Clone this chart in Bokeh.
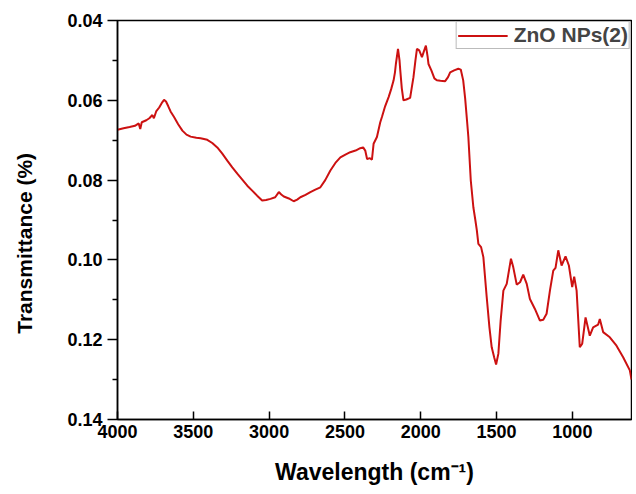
from bokeh.plotting import figure
from bokeh.models import Range1d, FixedTicker, NumeralTickFormatter, Legend, LegendItem
from bokeh.embed import file_html
from bokeh.resources import INLINE

# FTIR spectrum of ZnO NPs(2): wavenumber (cm-1) and transmittance
wavenumber = [
    4000, 3960, 3920, 3885, 3860, 3850, 3840, 3810, 3790, 3770, 3760, 3745, 3725, 3705,
    3693, 3680, 3665, 3650, 3627, 3600, 3572, 3545, 3518, 3480, 3452, 3408, 3375, 3342,
    3310, 3276, 3243, 3210, 3177, 3144, 3110, 3079, 3046, 3020, 2991, 2960, 2936, 2920,
    2903, 2870, 2838, 2815, 2794, 2760, 2728, 2695, 2662, 2630, 2596, 2563, 2530, 2497,
    2465, 2430, 2399, 2380, 2366, 2354, 2335, 2322, 2311, 2289, 2267, 2256, 2235, 2212,
    2195, 2179, 2170, 2164, 2150, 2140, 2135, 2125, 2114, 2095, 2070, 2060, 2048, 2035,
    2025, 2010, 1992, 1980, 1966, 1955, 1949, 1930, 1910, 1894, 1870, 1839, 1820, 1806,
    1780, 1752, 1736, 1720, 1707, 1695, 1686, 1670, 1653, 1640, 1630, 1620, 1602, 1587,
    1565, 1547, 1532, 1515, 1503, 1488, 1473, 1455, 1433, 1405, 1390, 1367, 1345, 1324,
    1301, 1280, 1247, 1214, 1192, 1170, 1148, 1126, 1111, 1093, 1071, 1045, 1023, 1001,
    988, 972, 951, 935, 913, 885, 863, 830, 819, 797, 753, 709, 665, 621, 610,
]
transmittance = [
    0.0674, 0.0670, 0.0667, 0.0664, 0.0658, 0.0672, 0.0655, 0.0650, 0.0645, 0.0637, 0.0645, 0.0628, 0.0618, 0.0605,
    0.0599, 0.0603, 0.0615, 0.0628, 0.0642, 0.0660, 0.0676, 0.0686, 0.0691, 0.0694, 0.0695, 0.0699, 0.0707, 0.0718,
    0.0733, 0.0751, 0.0768, 0.0784, 0.0799, 0.0814, 0.0827, 0.0839, 0.0851, 0.0850, 0.0847, 0.0843, 0.0830, 0.0836,
    0.0841, 0.0846, 0.0853, 0.0849, 0.0843, 0.0837, 0.0830, 0.0824, 0.0818, 0.0800, 0.0776, 0.0757, 0.0743, 0.0736,
    0.0730, 0.0726, 0.0720, 0.0718, 0.0726, 0.0747, 0.0745, 0.0749, 0.0709, 0.0692, 0.0655, 0.0642, 0.0615, 0.0592,
    0.0572, 0.0550, 0.0530, 0.0509, 0.0471, 0.0500, 0.0525, 0.0570, 0.0600, 0.0598, 0.0594, 0.0570, 0.0542, 0.0500,
    0.0471, 0.0475, 0.0492, 0.0478, 0.0463, 0.0490, 0.0509, 0.0525, 0.0545, 0.0550, 0.0551, 0.0552, 0.0542, 0.0530,
    0.0525, 0.0521, 0.0523, 0.0550, 0.0596, 0.0650, 0.0692, 0.0801, 0.0868, 0.0900, 0.0926, 0.0960, 0.0968, 0.0993,
    0.1093, 0.1169, 0.1219, 0.1245, 0.1262, 0.1235, 0.1152, 0.1077, 0.1060, 0.0997, 0.1018, 0.1062, 0.1056, 0.1037,
    0.1060, 0.1098, 0.1123, 0.1152, 0.1150, 0.1135, 0.1077, 0.1027, 0.1020, 0.0976, 0.1014, 0.0991, 0.1014, 0.1068,
    0.1042, 0.1077, 0.1219, 0.1210, 0.1144, 0.1190, 0.1169, 0.1162, 0.1148, 0.1181, 0.1194, 0.1215, 0.1244, 0.1277, 0.1300,
]
x_ticks = [4000, 3500, 3000, 2500, 2000, 1500, 1000]
y_ticks = [0.04, 0.06, 0.08, 0.10, 0.12, 0.14]
y_minor = [0.05, 0.07, 0.09, 0.11, 0.13]
series_name = "ZnO NPs(2)"
x_title = "Wavelength (cm⁻¹)"
y_title = "Transmittance (%)"

FONT = "Liberation Sans"

p = figure(
    width=632, height=490,
    x_range=Range1d(4000, 610), y_range=Range1d(0.14, 0.04),
    output_backend="svg", toolbar_location=None,
    min_border_left=117, min_border_right=1, min_border_top=20, min_border_bottom=71,
)
p.background_fill_color = "white"
p.border_fill_color = "white"
p.outline_line_color = "black"
p.outline_line_width = 1.5
p.xgrid.visible = False
p.ygrid.visible = False

line = p.line(wavenumber, transmittance, line_color="#cc1111", line_width=2)

# x axis
xa = p.xaxis[0]
xa.ticker = FixedTicker(ticks=x_ticks)
xa.axis_label = x_title
xa.major_tick_in = 8
xa.major_tick_out = 0
xa.minor_tick_in = 0
xa.minor_tick_out = 0
xa.major_label_standoff = 5
xa.axis_label_standoff = 18
xa.axis_label_text_font_size = "23px"

# y axis (title sits a little below the frame centre in the original;
# trailing no-break spaces shift the visible text down)
ya = p.yaxis[0]
ya.ticker = FixedTicker(ticks=y_ticks, minor_ticks=y_minor)
ya.formatter = NumeralTickFormatter(format="0.00")
ya.axis_label = y_title + "\u00a0" * 8
ya.axis_label_standoff = 28
ya.axis_label_text_font_size = "21px"
ya.major_tick_in = 0
ya.major_tick_out = 10
ya.minor_tick_in = 0
ya.minor_tick_out = 5
ya.major_label_standoff = 5

for ax in (xa, ya):
    ax.axis_line_color = "black"
    ax.axis_line_width = 1.5
    ax.major_tick_line_color = "black"
    ax.major_tick_line_width = 1.5
    ax.minor_tick_line_color = "black"
    ax.minor_tick_line_width = 1.5
    ax.major_label_text_font = FONT
    ax.major_label_text_font_style = "bold"
    ax.major_label_text_font_size = "18px"
    ax.major_label_text_color = "black"
    ax.axis_label_text_font = FONT
    ax.axis_label_text_font_style = "bold"
    ax.axis_label_text_color = "black"

legend = Legend(items=[LegendItem(label=series_name, renderers=[line])], location="top_right")
legend.margin = 1
legend.padding = 1
legend.glyph_width = 50
legend.glyph_height = 19
legend.label_text_font = FONT
legend.label_text_font_style = "bold"
legend.label_text_font_size = "21px"
legend.label_standoff = 6
legend.border_line_color = "#777777"
legend.border_line_width = 1
legend.background_fill_alpha = 1
p.add_layout(legend)

open("out.html", "w").write(file_html(p, INLINE))
